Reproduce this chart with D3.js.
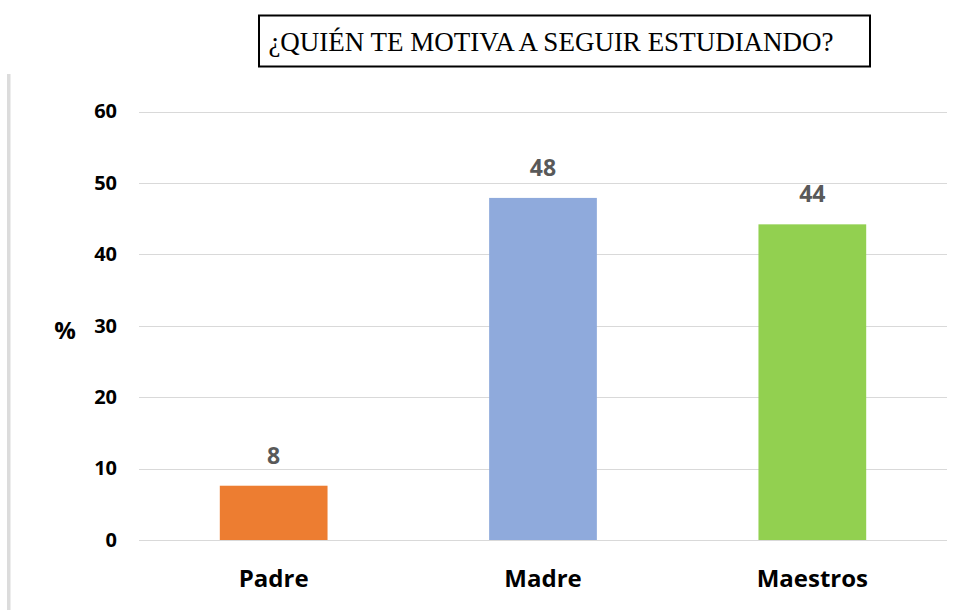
<!DOCTYPE html>
<html><head><meta charset="utf-8">
<script src="https://cdn.jsdelivr.net/npm/d3@7"></script>
<style>body{margin:0;background:#fff}</style>
</head><body>
<script>
const categories = ["Padre", "Madre", "Maestros"];
const values = [7.6, 47.9, 44.2];
const labels = ["8", "48", "44"];
const colors = ["#ED7D31", "#8FAADC", "#92D050"];
const yTicks = [0, 10, 20, 30, 40, 50, 60];
const title = "¿QUIÉN TE MOTIVA A SEGUIR ESTUDIANDO?";
const yLabel = "%";

const W = 960, H = 610;
const svg = d3.select("body").append("svg").attr("width", W).attr("height", H);

const x0 = 139, x1 = 947, yBase = 540, yTop = 111.5;
const x = d3.scaleBand().domain(categories).range([x0, x1]).padding(0);
const y = d3.scaleLinear().domain([0, 60]).range([yBase, yTop]);

// left decorative line
svg.append("rect").attr("x", 7).attr("y", 74).attr("width", 3.5).attr("height", H - 74).attr("fill", "#dcdcdc");

// title box
svg.append("rect").attr("x", 259).attr("y", 15.5).attr("width", 611).attr("height", 51)
  .attr("fill", "#fff").attr("stroke", "#000").attr("stroke-width", 2);
svg.append("text").attr("x", 551).attr("y", 51).attr("text-anchor", "middle")
  .attr("font-family", "Liberation Serif, Times New Roman, serif").attr("font-size", 27)
  .attr("fill", "#000").text(title);

// gridlines
svg.append("g").selectAll("line").data(yTicks).join("line")
  .attr("x1", x0).attr("x2", x1)
  .attr("y1", d => Math.round(y(d)) + 0.5).attr("y2", d => Math.round(y(d)) + 0.5)
  .attr("stroke", "#d9d9d9").attr("stroke-width", 1);

// y axis labels
const yAxis = d3.axisLeft(y).tickValues(yTicks).tickSize(0).tickPadding(0);
const ga = svg.append("g").attr("transform", "translate(117,0)").call(yAxis);
ga.select(".domain").remove();
ga.selectAll("text").attr("font-family", "Open Sans, sans-serif").attr("font-weight", "bold")
  .attr("font-size", 20).attr("fill", "#000");

// % label
svg.append("text").attr("x", 65).attr("y", 339).attr("text-anchor", "middle")
  .attr("font-family", "Open Sans, sans-serif").attr("font-weight", "bold").attr("font-size", 24)
  .attr("fill", "#000").text(yLabel);

// bars
const bw = x.bandwidth() * 0.4;
svg.append("g").selectAll("rect").data(values).join("rect")
  .attr("x", (d, i) => x(categories[i]) + x.bandwidth() / 2 - bw / 2)
  .attr("width", bw)
  .attr("y", d => y(d)).attr("height", d => yBase - y(d))
  .attr("fill", (d, i) => colors[i]);

// value labels
svg.append("g").selectAll("text").data(values).join("text")
  .attr("x", (d, i) => x(categories[i]) + x.bandwidth() / 2)
  .attr("y", d => y(d) - 22)
  .attr("text-anchor", "middle")
  .attr("font-family", "Open Sans, sans-serif").attr("font-weight", "bold").attr("font-size", 23)
  .attr("fill", "#595959").text((d, i) => labels[i]);

// category labels
const xAxis = d3.axisBottom(x).tickSize(0).tickPadding(0);
const gx = svg.append("g").attr("transform", "translate(0,570)").call(xAxis);
gx.select(".domain").remove();
gx.selectAll("text").attr("font-family", "Open Sans, sans-serif").attr("font-weight", "bold")
  .attr("font-size", 24).attr("fill", "#000");
</script>
</body></html>
